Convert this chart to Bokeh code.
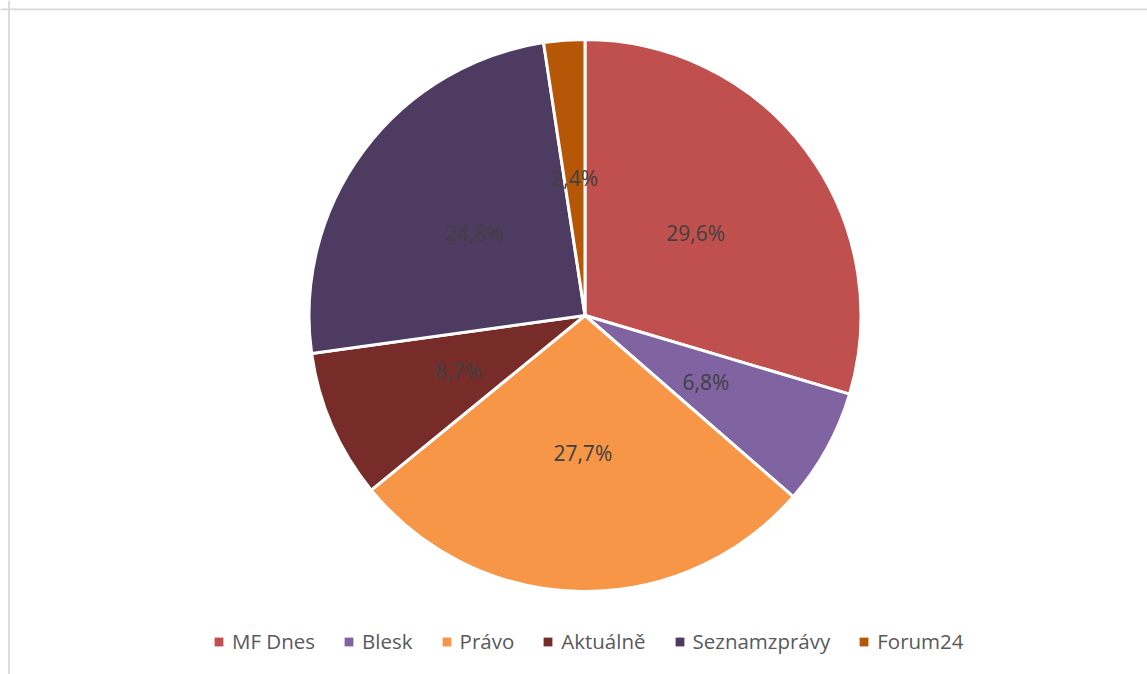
import numpy as np
from bokeh.plotting import figure
from bokeh.models import ColumnDataSource, Range1d, Legend, LegendItem, Span
from bokeh.core.properties import value
from bokeh.embed import file_html
from bokeh.resources import INLINE

# ---- data ----
categories = ["MF Dnes", "Blesk", "Právo", "Aktuálně", "Seznamzprávy", "Forum24"]
shares = [29.6, 6.8, 27.7, 8.7, 24.8, 2.4]
colors = ["#C0504D", "#8064A2", "#F79646", "#772C2A", "#4D3B62", "#B65708"]

# ---- layout ----
W, H = 1147, 674
CX, CY, R = 584.5, 359.0, 276.0

vals = np.array(shares, dtype=float)
frac = vals / vals.sum()
cum = np.concatenate([[0.0], np.cumsum(frac)])
start = np.pi / 2 - cum[:-1] * 2 * np.pi
end = np.pi / 2 - cum[1:] * 2 * np.pi
mid = (start + end) / 2
labels = [f"{v:.1f}".replace(".", ",") + "%" for v in shares]

src = ColumnDataSource(dict(
    name=categories, start=start, end=end, color=colors, label=labels,
    lx=CX + 0.5 * R * np.cos(mid), ly=CY + 0.5 * R * np.sin(mid),
    nx=[np.nan] * len(categories), ny=[np.nan] * len(categories),
))

p = figure(width=W, height=H, x_range=Range1d(0, W), y_range=Range1d(0, H),
           x_axis_type=None, y_axis_type=None, output_backend="svg",
           toolbar_location=None, min_border=0)
p.grid.visible = False
p.outline_line_color = None
p.background_fill_color = "white"
p.border_fill_color = "white"

p.add_layout(Span(location=8.5, dimension="height", line_color="#D9D9D9", line_width=1.8))
p.add_layout(Span(location=H - 8.8, dimension="width", line_color="#D9D9D9", line_width=1.8))

p.wedge(x=CX, y=CY, radius=R, start_angle="start", end_angle="end",
        direction="clock", fill_color="color", line_color="white",
        line_width=3, source=src)

p.text(x="lx", y="ly", text="label", text_align="center", text_baseline="middle",
       text_font=value("Open Sans"), text_font_size="21px", text_color="#404040",
       source=src)

leg_r = p.rect(x="nx", y="ny", width=1, height=1, fill_color="color",
               line_color=None, source=src)
items = [LegendItem(label=c, renderers=[leg_r], index=i) for i, c in enumerate(categories)]
legend = Legend(items=items, orientation="horizontal", location=(213, 19),
                glyph_width=11, glyph_height=11, label_standoff=8, spacing=28,
                padding=0, margin=0, border_line_color=None,
                background_fill_alpha=0,
                label_text_font="Open Sans", label_text_font_size="20.5px",
                label_text_color="#595959")
p.add_layout(legend)

open("out.html", "w").write(file_html(p, INLINE))
